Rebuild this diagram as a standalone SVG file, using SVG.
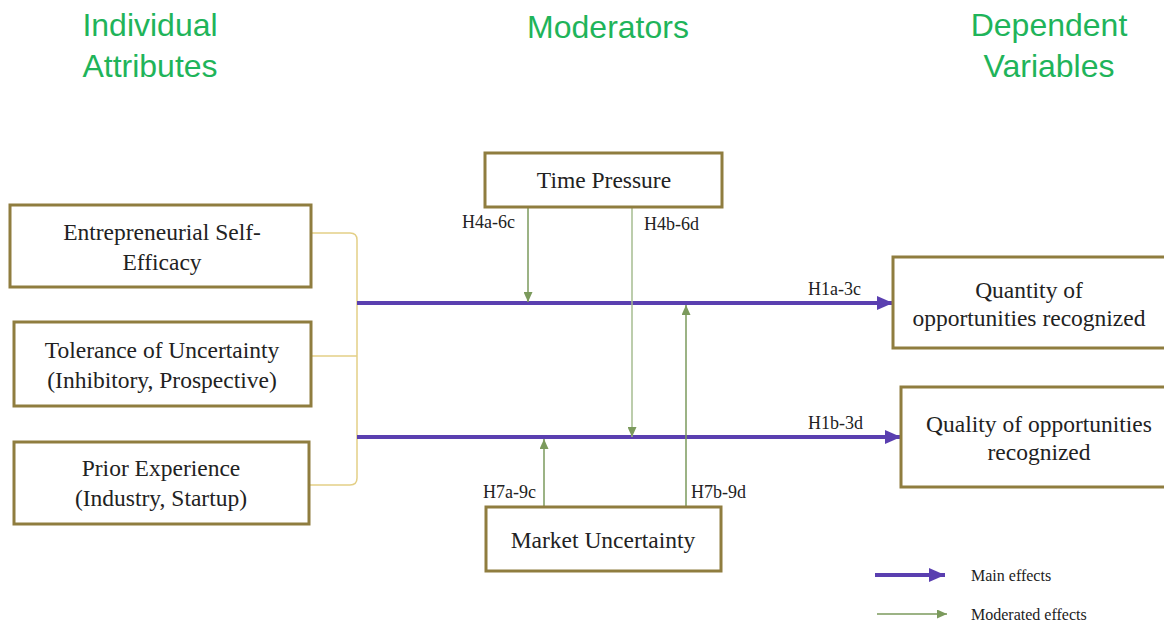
<svg xmlns="http://www.w3.org/2000/svg" width="1164" height="624" viewBox="0 0 1164 624">
<defs>
<marker id="mainHead" viewBox="0 0 16 14" refX="16" refY="7" markerWidth="16" markerHeight="14" markerUnits="userSpaceOnUse" orient="auto">
<path d="M0,0 L16,7 L0,14 z" fill="#5a3fb0"/>
</marker>
<marker id="modHead" viewBox="0 0 10 9" refX="10" refY="4.5" markerWidth="10" markerHeight="9" markerUnits="userSpaceOnUse" orient="auto">
<path d="M0,0 L10,4.5 L0,9 z" fill="#7b9a5c"/>
</marker>
</defs>
<style>
.box{fill:#fff;stroke:#8f7d3f;stroke-width:3}
.t{font-family:'Liberation Serif','Times New Roman',serif;font-size:23.5px;fill:#222;text-anchor:middle}
.lbl{font-family:'Liberation Serif','Times New Roman',serif;font-size:18px;fill:#222}
.hdr{font-family:'Liberation Sans',Arial,sans-serif;font-size:32px;fill:#1fb45a;text-anchor:middle}
.leg{font-family:'Liberation Serif','Times New Roman',serif;font-size:16px;fill:#222}
.main{stroke:#5a3fb0;stroke-width:4;fill:none;marker-end:url(#mainHead)}
.mod{stroke:#7b9a5c;stroke-width:1.5;fill:none;marker-end:url(#modHead)}
.modl{stroke:#a6bd90}
.brk{stroke:#e3cf86;stroke-width:1.5;fill:none}
</style>
<rect width="1164" height="624" fill="#fff"/>
<g id="headers">
<text class="hdr" x="150" y="36">Individual</text>
<text class="hdr" x="150" y="77">Attributes</text>
<text class="hdr" x="608" y="38">Moderators</text>
<text class="hdr" x="1049" y="36">Dependent</text>
<text class="hdr" x="1049" y="77">Variables</text>
</g>
<g id="connectors">
<path class="brk" d="M311,233 L350,233 Q357,233 357,240 L357,478 Q357,485 350,485 L309,485"/>
<path class="brk" d="M311,356 L357,356"/>
<path class="main" d="M357,303 L893,303"/>
<path class="main" d="M357,437 L901,437"/>
<path class="mod" d="M528,207 L528,302"/>
<path class="mod modl" d="M632,207 L632,437"/>
<path class="mod" d="M686,507 L686,305"/>
<path class="mod" d="M544,507 L544,439"/>
<text class="lbl" x="462" y="228">H4a-6c</text>
<text class="lbl" x="644" y="230">H4b-6d</text>
<text class="lbl" x="483" y="498">H7a-9c</text>
<text class="lbl" x="691" y="498">H7b-9d</text>
<text class="lbl" x="808" y="295">H1a-3c</text>
<text class="lbl" x="808" y="429">H1b-3d</text>
</g>
<g id="node-ese">
<rect class="box" x="10" y="205" width="301" height="82"/>
<text class="t" x="162" y="240">Entrepreneurial Self-</text>
<text class="t" x="162" y="270">Efficacy</text>
</g>
<g id="node-tolerance">
<rect class="box" x="14" y="322" width="297" height="84"/>
<text class="t" x="162" y="358">Tolerance of Uncertainty</text>
<text class="t" x="162" y="388">(Inhibitory, Prospective)</text>
</g>
<g id="node-prior">
<rect class="box" x="14" y="442" width="295" height="82"/>
<text class="t" x="161" y="476">Prior Experience</text>
<text class="t" x="161" y="506">(Industry, Startup)</text>
</g>
<g id="node-time">
<rect class="box" x="485" y="153" width="237" height="54"/>
<text class="t" x="604" y="188">Time Pressure</text>
</g>
<g id="node-market">
<rect class="box" x="486" y="507" width="235" height="64"/>
<text class="t" x="603" y="548">Market Uncertainty</text>
</g>
<g id="node-quantity">
<rect class="box" x="893" y="257" width="275" height="91"/>
<text class="t" x="1029" y="298">Quantity of</text>
<text class="t" x="1029" y="326">opportunities recognized</text>
</g>
<g id="node-quality">
<rect class="box" x="901" y="387" width="267" height="100"/>
<text class="t" x="1039" y="432">Quality of opportunities</text>
<text class="t" x="1039" y="460">recognized</text>
</g>
<g id="legend">
<path class="main" d="M875,575 L945,575"/>
<text class="leg" x="971" y="581">Main effects</text>
<path class="mod" d="M877,614 L947,614"/>
<text class="leg" x="971" y="620">Moderated effects</text>
</g>
</svg>
